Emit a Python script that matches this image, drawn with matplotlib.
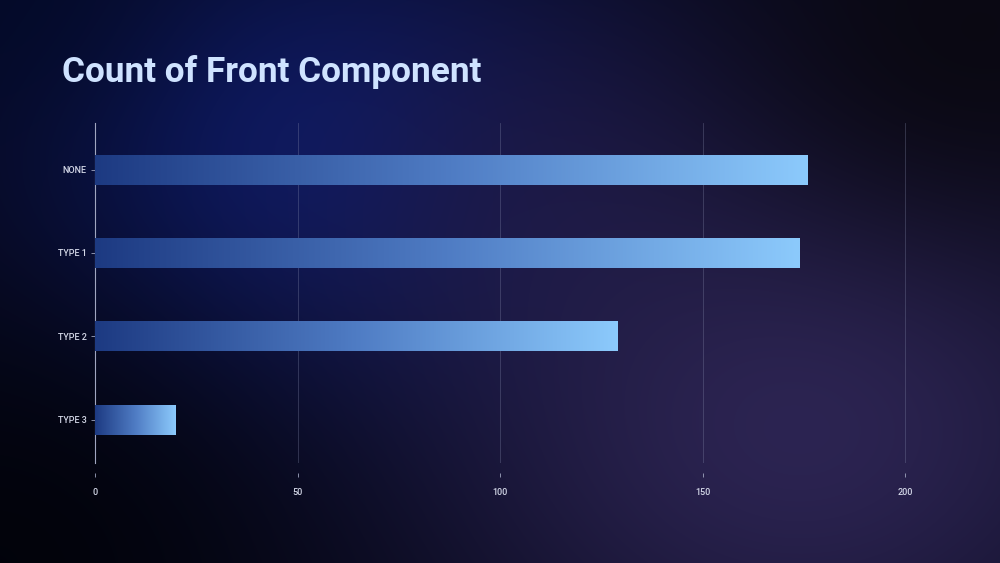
import numpy as np
import matplotlib
matplotlib.use('Agg')
import matplotlib.pyplot as plt
from matplotlib.colors import LinearSegmentedColormap, to_rgb

categories = ["NONE", "TYPE 1", "TYPE 2", "TYPE 3"]
counts = [176, 174, 129, 20]
x_ticks = [0, 50, 100, 150, 200]
title = "Count of Front Component"

W, H = 1000, 563
fig = plt.figure(figsize=(10, 5.63), dpi=100)

# background: dark base with a navy glow top-left and a violet glow bottom-right
yy, xx = np.mgrid[0:H, 0:W]
img = np.zeros((H, W, 3))
img[:] = to_rgb("#07081a")


def glow(cx, cy, rx, ry, color, strength):
    d = ((xx - cx) / rx) ** 2 + ((yy - cy) / ry) ** 2
    w = np.exp(-d) * strength
    c = np.array(to_rgb(color))
    return w[..., None], c


for cx, cy, rx, ry, col, s in [
    (330, 160, 300, 240, "#0c1a66", 1.0),
    (560, 180, 220, 180, "#1c1640", 0.6),
    (800, 420, 380, 300, "#2c2452", 1.0),
    (970, 40, 240, 190, "#0a0810", 0.85),
    (0, 0, 160, 140, "#020a2a", 0.6),
    (0, 563, 300, 250, "#010208", 0.85),
]:
    w, c = glow(cx, cy, rx, ry, col, s)
    img = img * (1 - w) + c * w

bg = fig.add_axes([0, 0, 1, 1])
bg.imshow(img, aspect="auto", extent=[0, 1, 0, 1], origin="upper")
bg.axis("off")

fig.text(0.062, 0.855, title, fontsize=25.3, fontweight="bold",
         family=["Roboto", "DejaVu Sans"], color="#cfe3ff")

ax = fig.add_axes([0.095, 1 - 463 / H, 0.85, 340 / H])
ax.patch.set_alpha(0)

ypos = np.arange(len(categories))
bar_cmap = LinearSegmentedColormap.from_list("bar", ["#1d3a82", "#4f7cc4", "#8ccafc"])
bars = ax.barh(ypos, counts, height=0.36, color="none", edgecolor="none")
for b in bars:
    x0, y0 = b.get_x(), b.get_y()
    w, h = b.get_width(), b.get_height()
    grad = np.linspace(0, 1, 256).reshape(1, -1)
    im = ax.imshow(grad, cmap=bar_cmap, aspect="auto",
                   extent=[x0, x0 + w, y0 + h, y0], zorder=3)
    im.set_clip_path(b)

ax.set_xlim(0, 200 * 850 / 810)
ax.set_ylim(3.52, -0.56)
ax.set_yticks(ypos)
ax.set_yticklabels(categories)
ax.set_xticks(x_ticks)

ax.grid(axis="x", color="#8a90b0", alpha=0.35, linewidth=0.6)
ax.set_axisbelow(True)
for s in ["top", "right"]:
    ax.spines[s].set_visible(False)
ax.spines["bottom"].set_position(("outward", 7))
ax.spines["bottom"].set_visible(False)
ax.spines["left"].set_color("#a0a6c0")
ax.spines["left"].set_linewidth(0.8)

ax.tick_params(axis="both", colors="#a0a6c0", labelcolor="#d4d8e8",
               labelsize=6.5, length=3, width=0.6)
ax.tick_params(axis="x", pad=8)
ax.tick_params(axis="y", pad=3)
for lab in ax.get_xticklabels() + ax.get_yticklabels():
    lab.set_family(["Roboto", "DejaVu Sans"])
    lab.set_fontweight("medium")

fig.savefig("out.png", dpi=100)
